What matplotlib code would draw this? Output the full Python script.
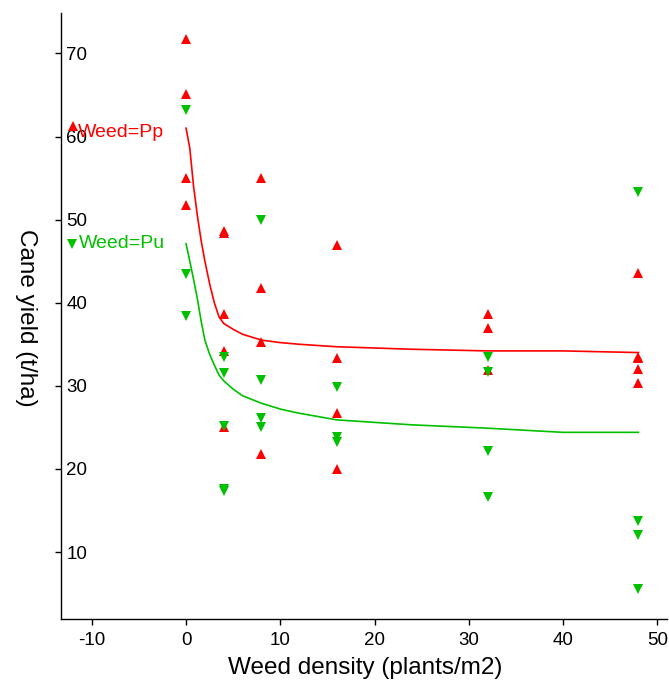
import matplotlib
matplotlib.use("Agg")
import matplotlib.pyplot as plt

plt.rcParams['font.family'] = ['Liberation Sans', 'DejaVu Sans']

# --- observed yields (t/ha) by weed density ---
pp_density = [0, 0, 0, 0, 4, 4, 4, 4, 4, 8, 8, 8, 8, 16, 16, 16, 16,
              32, 32, 32, 48, 48, 48, 48, 48]
pp_yield = [71.7, 65.1, 55.0, 51.7, 48.4, 48.6, 38.7, 34.2, 25.0,
            55.0, 41.8, 35.3, 21.8, 46.9, 33.4, 26.7, 20.0,
            38.7, 36.9, 31.9, 43.6, 33.3, 33.5, 32.0, 30.3]

pu_density = [0, 0, 0, 4, 4, 4, 4, 4, 8, 8, 8, 8, 16, 16, 16,
              32, 32, 32, 32, 48, 48, 48, 48]
pu_yield = [63.2, 43.4, 38.4, 33.5, 31.6, 25.2, 17.4, 17.6,
            50.0, 30.7, 26.1, 25.0, 29.8, 23.8, 23.2,
            33.5, 31.7, 22.2, 16.6, 53.3, 13.7, 12.1, 5.5]

# --- fitted curves ---
fit_density = [0, 0.4, 0.8, 1.2, 1.6, 2.0, 2.5, 3.0, 3.5, 4.0, 5, 6, 8,
               10, 12, 16, 24, 32, 40, 48]
pp_fit = [61.0, 58.6, 54.0, 50.5, 47.5, 45.0, 42.3, 40.0, 38.3, 37.5, 36.8,
          36.2, 35.5, 35.2, 35.0, 34.7, 34.4, 34.2, 34.2, 34.0]
pu_fit = [47.1, 45.0, 42.8, 40.5, 37.8, 35.5, 33.8, 32.5, 31.3, 30.6, 29.6,
          28.8, 27.9, 27.2, 26.7, 25.9, 25.3, 24.9, 24.4, 24.4]

x_ticks = [-10, 0, 10, 20, 30, 40, 50]
y_ticks = [10, 20, 30, 40, 50, 60, 70]

red = '#ff0000'
green = '#00c000'

fig = plt.figure(figsize=(6.69, 6.82), dpi=100)
ax = fig.add_axes([0.0907, 0.0919, 0.9059, 0.8895])

ax.plot(fit_density, pp_fit, color=red, lw=1.2, zorder=2)
ax.plot(fit_density, pu_fit, color=green, lw=1.2, zorder=2)
ax.plot(pp_density, pp_yield, '^', color=red, ms=7, mew=0, ls='none', zorder=3)
ax.plot(pu_density, pu_yield, 'v', color=green, ms=7, mew=0, ls='none', zorder=3)

ax.set_xlim(-13.3, 51.0)
ax.set_ylim(1.9, 74.9)

for side in ['top', 'right']:
    ax.spines[side].set_visible(False)
for side in ['left', 'bottom']:
    ax.spines[side].set_linewidth(1.0)

ax.set_xticks(x_ticks)
ax.set_xticklabels([str(v) for v in x_ticks])
ax.set_yticks(y_ticks)
ax.set_yticklabels([str(v) for v in y_ticks], ha='left')
ax.tick_params(axis='x', direction='out', length=4, width=1.0, pad=5, labelsize=13.5)
ax.tick_params(axis='y', direction='out', length=4, width=1.0, pad=-8, labelsize=13.5)

# legend-like labels at the left
ax.plot([0.021], [0.813], '^', color=red, ms=7, mew=0, transform=ax.transAxes, clip_on=False)
ax.text(0.028, 0.802, 'Weed=Pp', color=red, fontsize=14, ha='left', va='center',
        transform=ax.transAxes)
ax.plot([0.018], [0.619], 'v', color=green, ms=7, mew=0, transform=ax.transAxes, clip_on=False)
ax.text(0.030, 0.620, 'Weed=Pu', color=green, fontsize=14, ha='left', va='center',
        transform=ax.transAxes)

fig.text(365 / 669, 1 - 668 / 682, 'Weed density (plants/m2)', fontsize=17.5,
         ha='center', va='center')
fig.text(26 / 669, 1 - 318 / 682, 'Cane yield (t/ha)', fontsize=17.5,
         ha='center', va='center', rotation=-90)

fig.savefig('out.png', dpi=100)
